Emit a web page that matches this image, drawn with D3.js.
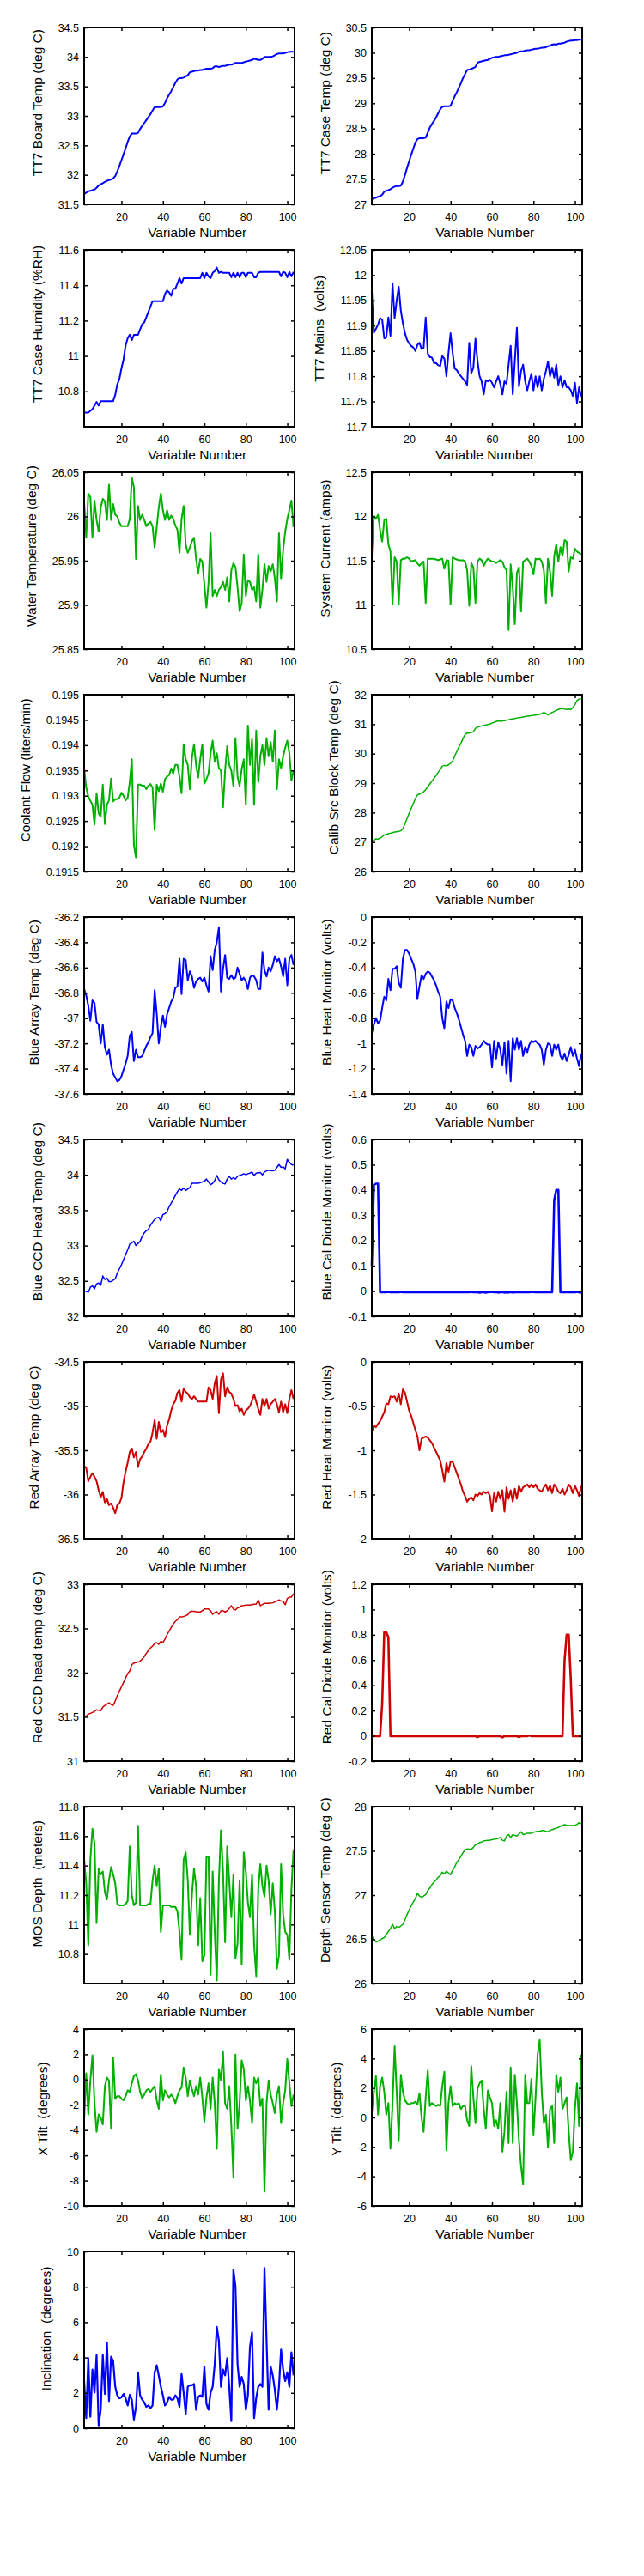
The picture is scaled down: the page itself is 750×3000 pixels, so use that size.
<!DOCTYPE html>
<html>
<head>
<meta charset="utf-8">
<script src="https://cdn.jsdelivr.net/npm/d3@7"></script>
<style>
  body { margin: 0; background: #ffffff; }
  svg { display: block; }
</style>
</head>
<body>
<svg id="chart" width="750" height="3000"></svg>
<script>
// ---------- data ----------
const variableNumbers = d3.range(2, 104); // x = 2 .. 103
const xTickValues = [20, 40, 60, 80, 100];
const xAxisTitle = "Variable Number";

const tt7BoardTemp = [
31.67,31.70,31.72,31.73,31.74,31.75,31.78,31.82,31.84,31.86,
31.88,31.90,31.91,31.92,31.94,31.98,32.06,32.15,32.25,32.35,
32.45,32.56,32.65,32.70,32.70,32.70,32.71,32.78,32.83,32.88,
32.93,32.98,33.03,33.09,33.15,33.15,33.15,33.15,33.16,33.22,
33.30,33.36,33.42,33.49,33.56,33.62,33.64,33.64,33.65,33.67,
33.69,33.74,33.75,33.76,33.77,33.77,33.78,33.78,33.79,33.80,
33.80,33.80,33.81,33.84,33.84,33.83,33.84,33.85,33.85,33.86,
33.87,33.87,33.88,33.90,33.90,33.90,33.90,33.91,33.92,33.93,
33.94,33.95,33.97,33.96,33.95,33.95,33.97,34.00,34.00,34.00,
34.00,34.01,34.03,34.05,34.06,34.06,34.06,34.07,34.08,34.09,
34.09,34.09];

const tt7CaseTemp = [
27.10,27.12,27.13,27.15,27.16,27.19,27.25,27.27,27.28,27.30,
27.33,27.35,27.36,27.36,27.37,27.45,27.58,27.72,27.85,27.98,
28.10,28.22,28.29,28.31,28.31,28.31,28.32,28.42,28.52,28.59,
28.65,28.72,28.80,28.88,28.93,28.94,28.94,28.94,28.95,29.05,
29.14,29.22,29.31,29.40,29.50,29.58,29.66,29.67,29.68,29.70,
29.72,29.80,29.82,29.83,29.84,29.85,29.86,29.88,29.90,29.91,
29.92,29.92,29.93,29.94,29.95,29.95,29.96,29.97,29.98,29.99,
30.00,30.02,30.03,30.03,30.04,30.05,30.05,30.06,30.07,30.08,
30.08,30.09,30.10,30.10,30.11,30.13,30.14,30.16,30.17,30.16,
30.18,30.18,30.19,30.20,30.22,30.23,30.24,30.24,30.25,30.25,
30.26,30.26];

const tt7CaseHumidity = [
10.68,10.68,10.68,10.69,10.70,10.72,10.74,10.72,10.745,10.745,
10.745,10.745,10.745,10.745,10.745,10.78,10.84,10.87,10.93,10.98,
11.06,11.10,11.12,11.09,11.12,11.12,11.12,11.15,11.18,11.19,
11.22,11.25,11.28,11.31,11.31,11.31,11.31,11.31,11.31,11.35,
11.37,11.36,11.34,11.38,11.38,11.41,11.44,11.41,11.44,11.44,
11.44,11.44,11.44,11.44,11.44,11.44,11.44,11.47,11.44,11.47,
11.45,11.44,11.47,11.48,11.50,11.47,11.475,11.47,11.47,11.47,
11.47,11.445,11.47,11.445,11.47,11.445,11.47,11.47,11.445,11.47,
11.47,11.47,11.445,11.445,11.47,11.475,11.475,11.475,11.475,11.475,
11.475,11.475,11.475,11.475,11.475,11.45,11.475,11.47,11.445,11.475,
11.45,11.475];

const tt7Mains = [
11.967,11.886,11.894,11.902,11.915,11.912,11.875,11.877,11.916,11.880,
11.984,11.915,11.950,11.977,11.930,11.905,11.885,11.872,11.865,11.860,
11.857,11.850,11.862,11.866,11.854,11.856,11.916,11.845,11.838,11.837,
11.826,11.826,11.822,11.820,11.840,11.835,11.800,11.846,11.885,11.846,
11.815,11.812,11.805,11.800,11.795,11.790,11.783,11.866,11.806,11.817,
11.874,11.830,11.800,11.790,11.764,11.792,11.790,11.793,11.787,11.778,
11.790,11.800,11.785,11.764,11.790,11.785,11.823,11.860,11.764,11.830,
11.896,11.780,11.810,11.823,11.790,11.772,11.790,11.805,11.772,11.800,
11.778,11.800,11.772,11.795,11.810,11.829,11.800,11.817,11.797,11.823,
11.783,11.800,11.778,11.792,11.778,11.778,11.772,11.761,11.787,11.747,
11.778,11.760];

const waterTemperature = [
26.017,25.976,26.026,26.022,25.976,26.018,25.996,25.983,26.010,26.020,
26.017,25.996,26.036,25.996,26.014,26.002,26.000,25.993,25.989,25.989,
25.989,25.989,25.997,26.044,26.033,25.952,26.012,25.996,26.002,25.996,
25.989,25.992,25.994,25.989,25.965,25.988,26.010,26.026,26.007,25.996,
26.007,25.996,26.001,25.997,25.990,25.985,25.959,25.997,26.012,25.968,
25.959,25.965,25.972,25.976,25.952,25.936,25.952,25.949,25.923,25.897,
25.925,25.981,25.910,25.917,25.910,25.917,25.920,25.926,25.917,25.931,
25.904,25.939,25.947,25.943,25.920,25.893,25.902,25.957,25.910,25.928,
25.926,25.917,25.920,25.904,25.957,25.897,25.917,25.946,25.926,25.944,
25.938,25.946,25.930,25.904,25.981,25.930,25.962,25.983,25.997,26.007,
26.018,25.988];

const systemCurrent = [
11.555,12.006,11.974,12.020,11.845,11.716,11.958,11.974,11.684,11.603,
11.006,11.539,11.490,11.006,11.506,11.523,11.523,11.539,11.523,11.490,
11.500,11.506,11.470,11.442,11.470,11.490,11.023,11.523,11.523,11.523,
11.520,11.515,11.506,11.515,11.523,11.410,11.506,11.500,11.006,11.539,
11.523,11.515,11.506,11.506,11.506,11.490,11.394,10.990,11.474,11.426,
11.023,11.490,11.523,11.506,11.442,11.490,11.523,11.506,11.490,11.490,
11.474,11.490,11.506,11.490,11.426,11.394,10.716,11.458,11.200,10.781,
11.361,11.426,10.926,11.490,11.506,11.523,11.490,11.442,11.345,11.523,
11.515,11.523,11.490,11.394,11.023,11.523,11.377,11.103,11.555,11.684,
11.490,11.652,11.555,11.732,11.716,11.377,11.539,11.523,11.635,11.603,
11.587,11.571];

const coolantFlow = [
0.19355,0.19316,0.19299,0.19290,0.19282,0.19243,0.19305,0.19265,0.19259,0.19322,
0.19244,0.19282,0.19291,0.19334,0.19289,0.19293,0.19293,0.19296,0.19306,0.19300,
0.19291,0.19296,0.19327,0.19372,0.19203,0.19178,0.19322,0.19322,0.19320,0.19320,
0.19313,0.19320,0.19323,0.19316,0.19232,0.19322,0.19309,0.19324,0.19308,0.19333,
0.19338,0.19341,0.19354,0.19344,0.19361,0.19361,0.19338,0.19305,0.19402,0.19372,
0.19361,0.19313,0.19375,0.19402,0.19361,0.19336,0.19372,0.19402,0.19324,0.19333,
0.19344,0.19384,0.19409,0.19367,0.19384,0.19355,0.19350,0.19277,0.19350,0.19398,
0.19361,0.19350,0.19319,0.19414,0.19338,0.19319,0.19353,0.19372,0.19282,0.19439,
0.19361,0.19412,0.19282,0.19429,0.19327,0.19378,0.19400,0.19361,0.19414,0.19378,
0.19406,0.19367,0.19429,0.19313,0.19372,0.19355,0.19378,0.19395,0.19409,0.19384,
0.19330,0.19350];

const calibSrcBlockTemp = [
27.00,27.06,27.11,27.10,27.13,27.18,27.24,27.26,27.28,27.30,
27.32,27.34,27.35,27.36,27.38,27.45,27.62,27.80,27.97,28.14,
28.30,28.47,28.60,28.63,28.66,28.70,28.78,28.87,28.97,29.07,
29.16,29.26,29.36,29.46,29.57,29.60,29.59,29.62,29.67,29.75,
29.92,30.07,30.22,30.36,30.51,30.65,30.70,30.70,30.72,30.74,
30.86,30.90,30.92,30.94,30.96,30.97,30.99,31.00,31.04,31.06,
31.09,31.11,31.10,31.11,31.12,31.14,31.15,31.17,31.18,31.19,
31.21,31.22,31.23,31.24,31.26,31.27,31.28,31.29,31.30,31.31,
31.32,31.33,31.36,31.40,31.36,31.31,31.36,31.40,31.43,31.47,
31.50,31.52,31.53,31.51,31.50,31.51,31.50,31.56,31.66,31.80,
31.85,31.87];

const blueArrayTemp = [
-36.77,-36.82,-36.90,-37.02,-36.86,-36.88,-37.03,-37.05,-37.20,-37.05,
-37.23,-37.29,-37.25,-37.37,-37.44,-37.47,-37.50,-37.49,-37.46,-37.41,
-37.36,-37.30,-37.14,-37.11,-37.34,-37.25,-37.31,-37.31,-37.30,-37.26,
-37.22,-37.19,-37.15,-37.12,-36.78,-36.96,-37.20,-37.07,-36.98,-37.07,
-36.97,-36.92,-36.87,-36.84,-36.76,-36.75,-36.53,-36.81,-36.53,-36.54,
-36.70,-36.63,-36.67,-36.76,-36.71,-36.69,-36.68,-36.71,-36.68,-36.74,
-36.79,-36.51,-36.62,-36.46,-36.40,-36.28,-36.79,-36.61,-36.50,-36.68,
-36.69,-36.66,-36.69,-36.68,-36.60,-36.65,-36.70,-36.68,-36.71,-36.77,
-36.68,-36.66,-36.67,-36.70,-36.77,-36.77,-36.48,-36.62,-36.67,-36.60,
-36.63,-36.58,-36.51,-36.55,-36.53,-36.59,-36.67,-36.53,-36.74,-36.53,
-36.50,-36.58];

const blueHeatMonitor = [
-0.92,-0.85,-0.80,-0.84,-0.82,-0.72,-0.63,-0.66,-0.49,-0.58,
-0.41,-0.41,-0.39,-0.52,-0.56,-0.33,-0.26,-0.26,-0.29,-0.33,
-0.37,-0.43,-0.65,-0.55,-0.46,-0.49,-0.45,-0.43,-0.44,-0.47,
-0.50,-0.54,-0.59,-0.63,-0.80,-0.88,-0.67,-0.72,-0.65,-0.66,
-0.72,-0.76,-0.81,-0.87,-0.93,-0.98,-1.10,-1.01,-1.03,-1.10,
-1.02,-1.04,-1.03,-1.01,-0.98,-1.00,-1.01,-1.01,-1.19,-0.98,
-1.12,-0.99,-1.05,-1.17,-0.99,-1.24,-0.98,-1.30,-0.96,-1.05,
-0.96,-1.05,-0.98,-1.10,-1.03,-1.07,-1.01,-0.98,-0.99,-0.98,
-1.00,-1.01,-1.05,-1.17,-1.05,-1.00,-1.01,-1.10,-1.01,-1.05,
-1.01,-1.10,-1.13,-1.08,-1.14,-1.09,-1.03,-1.10,-1.05,-1.12,
-1.18,-1.08];

const blueCcdHeadTemp = [
32.36,32.35,32.34,32.41,32.43,32.39,32.46,32.47,32.44,32.57,
32.52,32.54,32.49,32.49,32.51,32.53,32.61,32.67,32.73,32.80,
32.87,32.94,33.02,33.04,33.06,33.00,33.03,33.06,33.13,33.18,
33.21,33.23,33.29,33.33,33.37,33.39,33.40,33.35,33.44,33.45,
33.48,33.55,33.60,33.65,33.71,33.76,33.80,33.78,33.815,33.78,
33.80,33.82,33.88,33.88,33.88,33.88,33.89,33.90,33.91,33.94,
33.90,33.86,33.88,33.92,33.99,33.93,33.90,33.88,33.87,33.94,
33.98,33.94,33.96,33.94,33.98,33.99,34.00,34.016,34.00,34.016,
34.024,34.04,33.99,34.024,34.03,34.032,34.00,34.04,34.056,34.065,
34.06,34.056,34.065,34.105,34.145,34.105,34.113,34.085,34.218,34.177,
34.145,34.137];

const blueCalDiodeMonitor = [
0.10,0.42,0.425,0.425,-0.005,-0.005,-0.004,-0.005,-0.003,-0.005,
-0.005,-0.004,-0.005,-0.005,-0.003,-0.005,-0.005,-0.005,-0.004,-0.005,
-0.005,-0.005,-0.005,-0.004,-0.005,-0.005,-0.005,-0.005,-0.005,-0.005,
-0.005,-0.004,-0.005,-0.005,-0.005,-0.005,-0.005,-0.005,-0.005,-0.005,
-0.005,-0.005,-0.005,-0.005,-0.005,-0.005,-0.005,-0.005,-0.003,-0.005,
-0.004,-0.005,-0.006,-0.005,-0.005,-0.006,-0.005,-0.004,-0.003,-0.005,
-0.004,-0.006,-0.005,-0.004,-0.006,-0.005,-0.006,-0.004,-0.006,-0.005,
-0.004,-0.005,-0.004,-0.005,-0.004,-0.005,-0.005,-0.004,-0.004,-0.005,
-0.005,-0.005,-0.005,-0.004,-0.005,-0.005,-0.005,-0.005,0.36,0.40,
0.40,-0.005,-0.005,-0.005,-0.005,-0.005,-0.005,-0.004,-0.005,-0.003,
-0.005,-0.008];

const redArrayTemp = [
-35.68,-35.70,-35.85,-35.80,-35.76,-35.80,-35.85,-35.95,-36.03,-35.97,
-36.09,-36.05,-36.12,-36.10,-36.15,-36.21,-36.12,-36.10,-36.04,-35.86,
-35.74,-35.64,-35.52,-35.48,-35.58,-35.52,-35.69,-35.60,-35.57,-35.52,
-35.48,-35.43,-35.40,-35.30,-35.16,-35.37,-35.18,-35.30,-35.27,-35.35,
-35.22,-35.15,-35.05,-34.98,-34.94,-34.85,-34.82,-34.95,-34.80,-34.84,
-34.86,-34.90,-34.92,-34.89,-34.92,-34.95,-34.95,-34.95,-34.95,-34.95,
-34.79,-34.82,-34.92,-34.74,-34.66,-35.08,-34.70,-34.63,-34.89,-34.79,
-34.84,-34.86,-34.92,-35.00,-34.99,-35.06,-35.03,-35.10,-35.05,-35.03,
-35.00,-34.94,-34.87,-34.95,-35.03,-35.10,-34.92,-35.00,-34.92,-35.03,
-34.98,-34.95,-34.92,-34.98,-35.07,-34.95,-35.07,-34.98,-35.08,-34.92,
-34.82,-34.92];

const redHeatMonitor = [
-0.79,-0.72,-0.74,-0.70,-0.67,-0.62,-0.57,-0.47,-0.48,-0.39,
-0.40,-0.39,-0.45,-0.36,-0.48,-0.31,-0.35,-0.45,-0.55,-0.61,
-0.69,-0.77,-0.84,-1.00,-0.87,-0.855,-0.845,-0.855,-0.887,-0.919,
-0.968,-1.016,-1.065,-1.113,-1.226,-1.355,-1.145,-1.242,-1.129,-1.13,
-1.194,-1.258,-1.323,-1.387,-1.468,-1.516,-1.581,-1.548,-1.532,-1.565,
-1.50,-1.516,-1.484,-1.50,-1.468,-1.484,-1.468,-1.516,-1.69,-1.484,
-1.581,-1.468,-1.548,-1.452,-1.694,-1.419,-1.548,-1.452,-1.581,-1.435,
-1.548,-1.403,-1.468,-1.419,-1.403,-1.387,-1.419,-1.387,-1.419,-1.387,
-1.435,-1.452,-1.468,-1.419,-1.387,-1.452,-1.403,-1.484,-1.387,-1.419,
-1.468,-1.484,-1.435,-1.50,-1.452,-1.387,-1.419,-1.484,-1.403,-1.452,
-1.516,-1.403];

const redCcdHeadTemp = [
31.50,31.51,31.53,31.54,31.55,31.565,31.58,31.575,31.57,31.61,
31.63,31.645,31.66,31.64,31.63,31.68,31.74,31.79,31.84,31.89,
31.94,31.99,32.02,32.09,32.11,32.115,32.12,32.13,32.155,32.18,
32.22,32.25,32.28,32.30,32.33,32.34,32.32,32.355,32.34,32.38,
32.43,32.47,32.51,32.55,32.58,32.60,32.63,32.63,32.635,32.645,
32.655,32.69,32.694,32.694,32.69,32.687,32.687,32.70,32.72,32.72,
32.72,32.70,32.66,32.68,32.69,32.66,32.70,32.70,32.687,32.70,
32.726,32.758,32.72,32.71,32.732,32.74,32.758,32.76,32.765,32.765,
32.765,32.77,32.774,32.774,32.823,32.758,32.77,32.784,32.784,32.784,
32.787,32.79,32.80,32.81,32.823,32.81,32.806,32.768,32.839,32.855,
32.855,32.894];

const redCalDiodeMonitor = [
-0.003,-0.003,-0.003,-0.003,-0.003,0.25,0.82,0.82,0.78,-0.003,
-0.003,-0.003,-0.003,-0.003,-0.003,-0.003,-0.003,-0.003,-0.003,-0.003,
-0.003,-0.003,-0.003,-0.003,-0.003,-0.003,-0.003,-0.003,-0.003,-0.003,
-0.003,-0.003,-0.003,-0.003,-0.003,-0.003,-0.003,-0.003,-0.003,-0.003,
-0.003,-0.003,-0.003,-0.003,-0.003,-0.003,-0.003,-0.003,-0.003,-0.003,
-0.003,-0.010,-0.003,-0.003,-0.003,-0.003,-0.003,-0.003,-0.003,-0.003,
-0.003,-0.003,-0.003,-0.012,-0.003,-0.003,-0.003,-0.003,-0.003,-0.003,
-0.003,-0.010,-0.003,-0.003,-0.003,-0.003,0.003,-0.003,-0.003,-0.003,
-0.003,-0.003,-0.003,-0.003,-0.003,-0.003,-0.003,-0.003,-0.003,-0.003,
-0.003,-0.003,-0.003,0.60,0.80,0.80,0.45,-0.003,-0.003,-0.003,
-0.003,-0.003];

const mosDepth = [
11.44,11.28,10.86,11.44,11.65,11.55,11.01,11.38,11.34,11.36,
11.22,11.17,11.30,11.39,11.34,11.28,11.14,11.13,11.13,11.13,
11.14,11.16,11.53,11.20,11.13,11.15,11.67,11.13,11.13,11.13,
11.13,11.14,11.14,11.30,11.40,11.26,11.38,10.95,11.13,11.13,
11.13,11.13,11.12,11.12,11.12,11.09,10.95,10.76,11.44,11.49,
11.30,10.93,11.20,11.38,11.26,10.86,11.18,10.75,10.79,11.46,
11.46,10.66,11.36,10.95,10.62,11.30,11.64,11.36,10.88,11.53,
11.30,11.05,11.34,10.77,10.87,11.30,10.73,11.49,11.36,11.15,
11.05,11.34,10.86,10.65,11.24,11.41,11.26,11.19,11.40,11.30,
11.07,11.28,11.09,10.70,10.79,11.41,11.07,10.95,10.93,10.76,
11.24,11.51];

const depthSensorTemp = [
26.54,26.50,26.47,26.48,26.49,26.51,26.52,26.55,26.59,26.62,
26.67,26.62,26.645,26.635,26.65,26.67,26.72,26.78,26.83,26.88,
26.92,26.96,27.02,26.99,26.975,26.99,27.006,27.05,27.08,27.12,
27.145,27.17,27.20,27.22,27.26,27.24,27.27,27.25,27.23,27.28,
27.32,27.37,27.40,27.44,27.48,27.51,27.523,27.52,27.516,27.54,
27.57,27.58,27.594,27.60,27.613,27.616,27.62,27.622,27.626,27.63,
27.635,27.64,27.652,27.62,27.613,27.668,27.684,27.652,27.684,27.676,
27.668,27.69,27.716,27.684,27.69,27.70,27.70,27.70,27.71,27.716,
27.72,27.723,27.728,27.732,27.72,27.716,27.732,27.74,27.748,27.756,
27.765,27.775,27.79,27.797,27.79,27.787,27.787,27.787,27.787,27.80,
27.819,27.806];

const xTilt = [
-3.23,0.50,-2.77,-0.06,1.92,-1.87,-4.13,-2.77,-3.00,-3.56,
-0.52,0.16,-0.06,-3.90,1.74,-1.53,-1.31,-1.31,-1.53,-1.64,
-1.31,-0.85,-0.97,-0.29,0.28,0.43,-0.06,-0.97,-1.46,-1.19,
-0.85,-0.74,-0.97,-0.74,-0.52,-1.65,-2.32,0.39,-1.65,-0.85,
-1.19,-1.42,-1.19,-1.42,-1.87,-1.31,-0.85,-0.63,0.95,0.16,
-1.31,-0.06,-0.74,-1.31,-0.52,-1.19,0.16,-1.42,-3.34,-1.42,
-0.29,-2.32,0.16,-1.87,-5.48,0.84,-0.06,2.19,-1.87,-2.32,
-0.52,-3.68,-7.74,1.97,-3.90,-1.87,1.52,0.84,-1.65,-0.52,
-1.65,-3.45,0.16,-0.29,0.16,-2.10,-1.50,-8.87,-1.87,-0.06,
-1.19,-1.87,-2.66,-1.19,-0.52,-3.45,-1.87,-0.85,1.63,-0.29,
-2.10,-1.19];

const yTilt = [
0.29,1.74,2.81,0.19,2.13,2.71,1.74,0.19,0.97,-2.13,
0.97,4.84,1.74,-1.55,2.90,1.74,1.16,0.97,0.87,0.97,
0.97,1.07,0.87,1.65,0.00,-0.97,1.36,3.19,0.77,0.97,
0.87,0.77,0.87,0.77,2.13,3.10,-2.23,0.97,2.13,0.77,
0.97,0.87,0.97,0.58,0.77,0.77,-0.19,-0.58,3.48,1.36,
-0.39,1.94,2.32,2.52,0.58,-0.77,1.84,1.36,0.97,-0.58,
-0.19,-0.77,0.97,-2.32,-0.97,1.74,-1.74,3.39,-1.74,2.90,
0.97,-1.55,-3.29,-4.55,2.90,0.97,0.97,2.61,-1.16,1.36,
4.26,5.26,1.74,-0.39,0.19,-2.03,0.58,0.77,-1.74,2.90,
1.74,2.71,0.58,0.97,1.36,-0.97,-2.90,-2.32,0.58,2.32,
-0.58,4.26];

const inclination = [
2.67,0.57,3.96,0.65,3.32,2.02,4.13,0.16,1.05,4.13,
1.94,4.85,1.54,4.05,3.80,2.35,1.86,1.70,1.75,1.94,
1.70,1.29,1.89,1.62,0.49,1.21,3.16,1.86,1.62,1.46,
1.21,1.29,1.13,1.29,3.16,3.56,2.99,2.35,1.86,1.29,
1.46,1.78,1.62,1.62,1.86,1.70,1.21,3.07,2.02,0.81,
2.35,2.43,2.43,2.51,1.05,1.78,1.86,1.78,3.48,1.38,
1.05,2.02,2.35,3.64,5.74,4.94,2.35,3.32,2.99,3.96,
2.35,0.40,8.98,8.01,3.64,2.35,2.91,2.51,1.05,1.86,
4.61,5.42,0.57,1.70,2.35,2.51,2.35,9.06,4.94,1.05,
3.48,2.99,2.18,1.05,2.35,4.45,3.32,2.67,3.16,2.35,
4.29,2.99];

// panel titles (y-axis labels)
const yAxisTitles = [
  "TT7 Board Temp (deg C)", "TT7 Case Temp (deg C)",
  "TT7 Case Humidity (%RH)", "TT7 Mains  (volts)",
  "Water Temperature (deg C)", "System Current (amps)",
  "Coolant Flow (liters/min)", "Calib Src Block Temp (deg C)",
  "Blue Array Temp (deg C)", "Blue Heat Monitor (volts)",
  "Blue CCD Head Temp (deg C)", "Blue Cal Diode Monitor (volts)",
  "Red Array Temp (deg C)", "Red Heat Monitor (volts)",
  "Red CCD head temp (deg C)", "Red Cal Diode Monitor (volts)",
  "MOS Depth  (meters)", "Depth Sensor Temp (deg C)",
  "X Tilt  (degrees)", "Y Tilt  (degrees)",
  "Inclination  (degrees)"
];

// y tick labels per panel (first and last entries are also the axis limits unless noted)
const yTickLabels = [
  [31.5, 32, 32.5, 33, 33.5, 34, 34.5],
  [27, 27.5, 28, 28.5, 29, 29.5, 30, 30.5],
  [10.8, 11, 11.2, 11.4, 11.6],
  [11.7, 11.75, 11.8, 11.85, 11.9, 11.95, 12, 12.05],
  [25.85, 25.9, 25.95, 26, 26.05],
  [10.5, 11, 11.5, 12, 12.5],
  [0.1915, 0.192, 0.1925, 0.193, 0.1935, 0.194, 0.1945, 0.195],
  [26, 27, 28, 29, 30, 31, 32],
  [-37.6, -37.4, -37.2, -37, -36.8, -36.6, -36.4, -36.2],
  [-1.4, -1.2, -1, -0.8, -0.6, -0.4, -0.2, 0],
  [32, 32.5, 33, 33.5, 34, 34.5],
  [-0.1, 0, 0.1, 0.2, 0.3, 0.4, 0.5, 0.6],
  [-36.5, -36, -35.5, -35, -34.5],
  [-2, -1.5, -1, -0.5, 0],
  [31, 31.5, 32, 32.5, 33],
  [-0.2, 0, 0.2, 0.4, 0.6, 0.8, 1, 1.2],
  [10.8, 11, 11.2, 11.4, 11.6, 11.8],
  [26, 26.5, 27, 27.5, 28],
  [-10, -8, -6, -4, -2, 0, 2, 4],
  [-6, -4, -2, 0, 2, 4, 6],
  [0, 2, 4, 6, 8, 10]
];
const yLimits = [
  [31.5, 34.5], [27, 30.5], [10.6, 11.6], [11.7, 12.05],
  [25.85, 26.05], [10.5, 12.5], [0.1915, 0.195], [26, 32],
  [-37.6, -36.2], [-1.4, 0], [32, 34.5], [-0.1, 0.6],
  [-36.5, -34.5], [-2, 0], [31, 33], [-0.2, 1.2],
  [10.6, 11.8], [26, 28], [-10, 4], [-6, 6], [0, 10]
];
const seriesList = [
  tt7BoardTemp, tt7CaseTemp, tt7CaseHumidity, tt7Mains,
  waterTemperature, systemCurrent, coolantFlow, calibSrcBlockTemp,
  blueArrayTemp, blueHeatMonitor, blueCcdHeadTemp, blueCalDiodeMonitor,
  redArrayTemp, redHeatMonitor, redCcdHeadTemp, redCalDiodeMonitor,
  mosDepth, depthSensorTemp, xTilt, yTilt, inclination
];

// ---------- styling / layout ----------
const BLUE = "#0000ff", GREEN = "#00b000", RED = "#cc0000";
const seriesColors = [
  BLUE, BLUE, BLUE, BLUE,
  GREEN, GREEN, GREEN, GREEN,
  BLUE, BLUE, BLUE, BLUE,
  RED, RED, RED, RED,
  GREEN, GREEN, GREEN, GREEN,
  BLUE
];
const lineWidths = [
  2, 2, 2, 2,
  2, 2, 2, 1.5,
  2, 2, 1.5, 2.6,
  2, 2, 1.5, 2.6,
  2, 1.5, 2, 2,
  2.2
];

const colLeft = [98, 433];
const axW = 245, axH = 206;
const rowTop0 = 32, rowPitch = 259;
const xDomain = [2, 103.5];
const FONT = "'Liberation Sans', Arial, Helvetica, sans-serif";
const tickFont = 12.5, labelFont = 15.5, tickLen = 4;

const svg = d3.select("#chart");
svg.append("rect").attr("width", 750).attr("height", 3000).attr("fill", "#fff");

seriesList.forEach((vals, i) => {
  const col = i % 2, row = Math.floor(i / 2);
  const x0 = colLeft[col], y0 = rowTop0 + row * rowPitch;
  const g = svg.append("g").attr("transform", `translate(${x0},${y0})`);

  const x = d3.scaleLinear().domain(xDomain).range([0, axW]);
  const y = d3.scaleLinear().domain(yLimits[i]).range([axH, 0]);

  // data line
  const line = d3.line()
    .x((d, k) => x(variableNumbers[k]))
    .y(d => y(d));
  g.append("path")
    .datum(vals)
    .attr("d", line)
    .attr("fill", "none")
    .attr("stroke", seriesColors[i])
    .attr("stroke-width", lineWidths[i])
    .attr("stroke-linejoin", "round")
    .attr("stroke-linecap", "butt");

  // axes (ticks inside)
  const fmt = d => String(d);
  const gB = g.append("g").attr("transform", `translate(0,${axH})`)
    .call(d3.axisBottom(x).tickValues(xTickValues).tickFormat(fmt)
      .tickSizeInner(-tickLen).tickSizeOuter(0).tickPadding(10));
  const gT = g.append("g")
    .call(d3.axisTop(x).tickValues(xTickValues).tickFormat("")
      .tickSizeInner(-tickLen).tickSizeOuter(0));
  const gL = g.append("g")
    .call(d3.axisLeft(y).tickValues(yTickLabels[i]).tickFormat(fmt)
      .tickSizeInner(-tickLen).tickSizeOuter(0).tickPadding(6));
  const gR = g.append("g").attr("transform", `translate(${axW},0)`)
    .call(d3.axisRight(y).tickValues(yTickLabels[i]).tickFormat("")
      .tickSizeInner(-tickLen).tickSizeOuter(0));

  [gB, gT, gL, gR].forEach(a => {
    a.select(".domain").remove();
    a.selectAll(".tick line").attr("stroke", "#000").attr("stroke-width", 1.5);
    a.selectAll(".tick text")
      .attr("fill", "#000")
      .style("font-family", FONT)
      .style("font-size", tickFont + "px");
  });

  // box
  g.append("rect")
    .attr("x", 0).attr("y", 0).attr("width", axW).attr("height", axH)
    .attr("fill", "none").attr("stroke", "#000").attr("stroke-width", 2);

  // x label
  const xl = g.append("text")
    .attr("y", axH + 38)
    .attr("text-anchor", "middle")
    .style("font-family", FONT)
    .style("font-size", labelFont + "px")
    .attr("fill", "#000")
    .text(xAxisTitle);
  const xlLen = xl.node().getComputedTextLength();
  xl.attr("x", axW / 2 + 0.08 * xlLen);

  // y label
  let minX = 0;
  gL.selectAll(".tick text").each(function () {
    const bb = this.getBBox();
    minX = Math.min(minX, bb.x);
  });
  const bx = minX - 6 - 13;
  const yl = g.append("text")
    .attr("text-anchor", "middle")
    .style("font-family", FONT)
    .style("font-size", labelFont + "px")
    .style("white-space", "pre")
    .attr("fill", "#000")
    .text(yAxisTitles[i]);
  const ylLen = yl.node().getComputedTextLength();
  const cy = axH / 2 - 0.09 * ylLen;
  yl.attr("transform", `translate(${bx},${cy}) rotate(-90)`);
});
</script>
</body>
</html>
